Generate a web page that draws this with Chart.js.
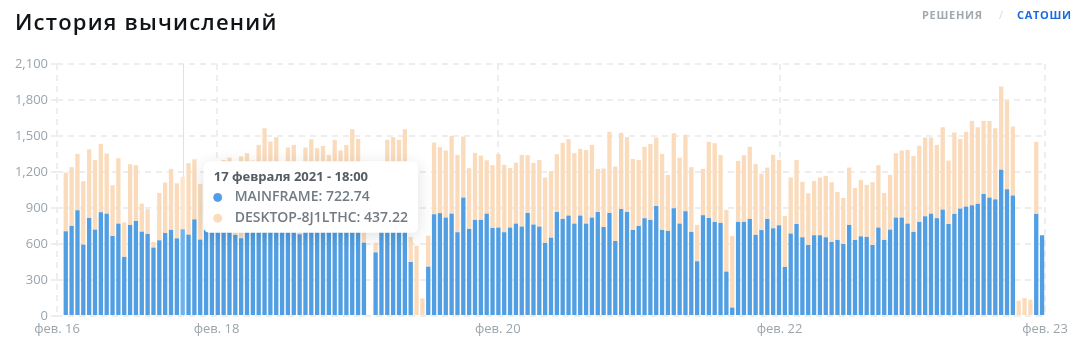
<!DOCTYPE html>
<html>
<head>
<meta charset="utf-8">
<script src="https://cdn.jsdelivr.net/npm/chart.js@4.4.1/dist/chart.umd.min.js"></script>
<style>
  html, body { margin: 0; padding: 0; background: #ffffff; }
  #wrap { position: relative; width: 1079px; height: 359px; overflow: hidden; }
  #title { position: absolute; left: 15px; top: 8px; font-family: 'Open Sans', sans-serif; font-size: 22px; font-weight: 600; color: #111417; letter-spacing: 1.2px; line-height: 26px; white-space: nowrap; }
  .nav { position: absolute; top: 8px; font-family: 'Open Sans', sans-serif; font-size: 11px; font-weight: 700; line-height: 14px; letter-spacing: 0.7px; white-space: nowrap; }
  #c { position: absolute; left: 0; top: 0; }
</style>
</head>
<body>
<div id="wrap">
  <canvas id="c" width="1079" height="359"></canvas>
  <div id="title">История вычислений</div>
  <span class="nav" style="left:922px;color:#a2a9af;">РЕШЕНИЯ</span>
  <span class="nav" style="left:999px;color:#d3d7db;font-weight:400;">/</span>
  <span class="nav" style="left:1017px;color:#1a6be3;">САТОШИ</span>
</div>
<script>
// ---- data ----
const mainframe = [
  null,706,751,881,595,817,720,865,853,667,770,
  492,759,792,703,684,570,631,692,718,647,
  722.74,678,805,637,720,735,710,760,745,675,
  648,760,720,780,800,770,790,740,760,780,
  681,760,790,770,750,740,780,760,790,810,
  780,611,null,530,760,850,840,860,870,450,
  0,0,411,848,857,820,853,698,987,726,
  801,801,853,734,737,698,737,770,745,859,
  762,745,609,653,867,809,837,770,837,770,
  820,867,742,859,625,892,867,717,751,815,
  801,917,717,709,898,770,873,701,456,840,
  817,784,776,370,70,784,784,809,676,716,
  809,731,756,409,687,767,656,592,673,673,
  656,617,634,600,759,634,664,659,592,737,
  634,720,820,820,770,701,784,831,853,815,
  887,767,851,895,912,923,935,1017,987,972,
  1218,1056,1004,0,0,0,851,673
];
const desktop = [
  null,489,489,470,528,573,580,569,501,423,545,
  288,506,465,234,206,47,394,420,508,459,
  437.22,595,501,464,430,465,470,540,575,575,
  682,597,575,646,765,684,700,460,644,646,
  469,644,683,628,667,603,688,619,636,747,
  696,569,null,80,390,618,650,608,687,210,
  586,147,259,598,550,559,648,645,509,506,
  559,536,445,523,612,562,497,508,598,481,
  514,556,545,554,481,634,636,587,556,614,
  606,359,487,676,620,634,623,592,550,595,
  633,570,634,467,625,550,637,539,303,386,
  634,656,567,514,597,509,556,601,590,470,
  428,612,545,425,469,534,462,431,453,481,
  512,498,400,384,478,434,470,434,523,520,
  392,456,537,559,614,633,634,656,634,611,
  686,528,678,581,623,703,638,609,639,593,
  695,740,575,128,150,136,600,0
];
const seriesNames = ['MAINFRAME', 'DESKTOP-8J1LTHC'];
const categories = mainframe.map((_, i) => 'slot ' + i);
const dayTickLabels = ['фев. 16', 'фев. 18', 'фев. 20', 'фев. 22', 'фев. 23'];
const dayTickSlots = [0, 27.3, 75.4, 123.6, 169];
const yMin = 0, yMax = 2100, yStep = 300;
const hoverSlot = 21;
const hoverTitle = '17 февраля 2021 - 18:00';
const pointerY = 197;

// ---- styles ----
const BLUE = '#519fe2', BLUE_HOVER = '#6db3f1';
const TAN = '#fadcbd', TAN_HOVER = '#fde5cd';
const AXIS_COLOR = '#9ba5ad';
const GRID = '#eeeeee';
const FONT = 'Open Sans';

Chart.Tooltip.positioners.pointer = function (items, eventPosition) {
  if (!items.length) return false;
  return { x: items[0].element.x, y: eventPosition ? eventPosition.y : items[0].element.y };
};

const extras = {
  id: 'extras',
  beforeDatasetsDraw(chart) {
    const act = chart.getActiveElements();
    if (!act.length) return;
    const x = Math.round(act[0].element.x) + 0.5;
    const { top, bottom } = chart.chartArea;
    const ctx = chart.ctx;
    ctx.save();
    ctx.strokeStyle = '#e2e2e2';
    ctx.lineWidth = 1;
    ctx.beginPath();
    ctx.moveTo(x, top);
    ctx.lineTo(x, bottom);
    ctx.stroke();
    ctx.restore();
  },
  beforeTooltipDraw(chart, args) {
    const tt = args.tooltip;
    if (!tt || !tt.opacity) return;
    const ctx = chart.ctx;
    ctx.save();
    ctx.shadowColor = 'rgba(0,0,0,0.13)';
    ctx.shadowBlur = 16;
    ctx.shadowOffsetY = 3;
    ctx.fillStyle = '#ffffff';
    ctx.beginPath();
    ctx.roundRect(tt.x, tt.y, tt.width, tt.height, 6);
    ctx.fill();
    ctx.restore();
  }
};

const chart = new Chart(document.getElementById('c'), {
  type: 'bar',
  data: {
    labels: categories,
    datasets: [
      { label: seriesNames[0], data: mainframe, backgroundColor: BLUE, hoverBackgroundColor: BLUE_HOVER,
        borderWidth: 0, barPercentage: 0.74, categoryPercentage: 1 },
      { label: seriesNames[1], data: desktop, backgroundColor: TAN, hoverBackgroundColor: TAN_HOVER,
        borderWidth: 0, barPercentage: 0.74, categoryPercentage: 1 }
    ]
  },
  options: {
    responsive: false,
    animation: false,
    devicePixelRatio: 1,
    events: [],
    layout: { padding: { left: 0, right: 34, top: 64, bottom: 0 } },
    plugins: {
      legend: { display: false },
      title: { display: false },
      tooltip: {
        enabled: true,
        mode: 'index',
        intersect: false,
        position: 'pointer',
        xAlign: 'left',
        yAlign: 'center',
        backgroundColor: '#ffffff',
        titleColor: '#565c62',
        bodyColor: '#727b83',
        titleFont: { family: FONT, size: 13, weight: '700' },
        bodyFont: { family: FONT, size: 14, weight: '600' },
        padding: { top: 8, bottom: 6, left: 10, right: 10 },
        titleMarginBottom: 4,
        bodySpacing: 4,
        cornerRadius: 6,
        caretSize: 0,
        caretPadding: 21,
        displayColors: true,
        usePointStyle: true,
        boxWidth: 8,
        boxHeight: 8,
        boxPadding: 11,
        callbacks: {
          title: () => hoverTitle,
          labelPointStyle: () => ({ pointStyle: 'circle', rotation: 0 }),
          labelColor: (item) => ({
            borderColor: item.dataset.backgroundColor,
            backgroundColor: item.dataset.backgroundColor,
            borderWidth: 0
          })
        }
      }
    },
    scales: {
      x: { type: 'category', stacked: true, display: false, offset: true },
      xt: {
        type: 'linear',
        position: 'bottom',
        offset: false,
        min: 0,
        max: mainframe.length,
        afterBuildTicks: (s) => { s.ticks = dayTickSlots.map(v => ({ value: v })); },
        afterFit: (s) => { s.height = 43; },
        ticks: {
          autoSkip: false, maxRotation: 0, minRotation: 0, padding: 5,
          color: AXIS_COLOR, font: { family: FONT, size: 13 },
          callback: (v, i) => dayTickLabels[i]
        },
        grid: { offset: false, color: GRID, lineWidth: 2, drawTicks: false },
        border: { display: false, dash: [6, 5] }
      },
      y: {
        stacked: true,
        min: yMin,
        max: yMax,
        afterFit: (s) => { s.width = 57; },
        ticks: { stepSize: yStep, padding: 3, color: AXIS_COLOR, font: { family: FONT, size: 13 } },
        grid: { color: GRID, lineWidth: 2, tickLength: 6 },
        border: { display: false, dash: [6, 5] }
      }
    }
  },
  plugins: [extras]
});

const active = [{ datasetIndex: 0, index: hoverSlot }, { datasetIndex: 1, index: hoverSlot }];
chart.setActiveElements(active);
chart.tooltip.setActiveElements(active, { x: 0, y: pointerY });
chart.update();
</script>
</body>
</html>
